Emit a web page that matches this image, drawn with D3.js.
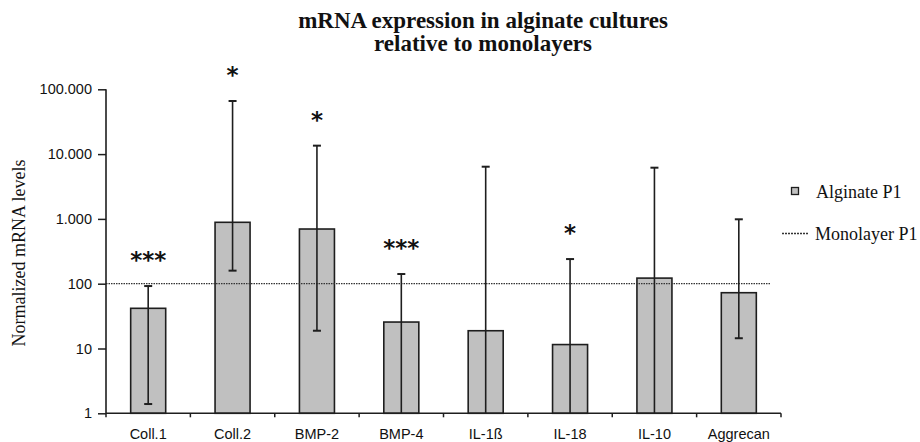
<!DOCTYPE html>
<html>
<head>
<meta charset="utf-8">
<script src="https://cdn.jsdelivr.net/npm/d3@7"></script>
<style>
    html, body { margin: 0; padding: 0; background: #fff; }
    svg { display: block; }
</style>
</head>
<body>
<svg id="chart" width="920" height="442"></svg>
<script>
/* ── Data ─────────────────────────────────────────── */
const genes     = ["Coll.1", "Coll.2", "BMP-2", "BMP-4", "IL-1ß", "IL-18", "IL-10", "Aggrecan"];
const means     = [41.7, 886, 698, 25.6, 18.8, 11.5, 122, 72.6];
const errUpper  = [92, 66000, 13500, 141, 6390, 240, 6170, 986];
const errLower  = [1.39, 159, 18.8, null, null, null, null, 14.4];   // null = runs below axis
const signif    = ["***", "*", "*", "***", "", "*", "", ""];
const yTicks    = [1, 10, 100, 1000, 10000, 100000];
const yTickText = ["1", "10", "100", "1.000", "10.000", "100.000"];
const monolayer = 100;

/* ── Scales ───────────────────────────────────────── */
const svg = d3.select("#chart");
const plot = { left: 106, right: 781, top: 89.3, bottom: 413.3 };

const x = d3.scaleBand()
    .domain(genes)
    .range([plot.left, plot.right])
    .paddingInner(0.585)
    .paddingOuter(0.2925);

const y = d3.scaleLog()
    .domain([1, 100000])
    .range([plot.bottom, plot.top]);

const dark = "#1e1e1e";

/* ── Title ────────────────────────────────────────── */
const title = svg.append("text")
    .attr("x", 483).attr("y", 28)
    .attr("text-anchor", "middle")
    .attr("font-family", "'Liberation Serif', 'Times New Roman', serif")
    .attr("font-weight", "bold")
    .attr("font-size", 23)
    .attr("fill", "#111");
title.append("tspan").attr("x", 483).text("mRNA expression in alginate cultures");
title.append("tspan").attr("x", 483).attr("dy", 23).text("relative to monolayers");

/* ── Y axis label ─────────────────────────────────── */
svg.append("text")
    .attr("transform", "translate(25,253) rotate(-90)")
    .attr("text-anchor", "middle")
    .attr("font-family", "'Liberation Serif', 'Times New Roman', serif")
    .attr("font-size", 18)
    .attr("fill", "#111")
    .text("Normalized mRNA levels");

/* ── Bars ─────────────────────────────────────────── */
const rows = genes.map((g, i) => ({
    gene: g, mean: means[i], hi: errUpper[i], lo: errLower[i], sig: signif[i]
}));

svg.append("g").selectAll("rect")
    .data(rows).join("rect")
    .attr("x", d => x(d.gene))
    .attr("y", d => y(d.mean))
    .attr("width", x.bandwidth())
    .attr("height", d => y(1) - y(d.mean))
    .attr("fill", "#c0c0c0")
    .attr("stroke", dark)
    .attr("stroke-width", 1.6);

/* ── Monolayer reference line ─────────────────────── */
svg.append("line")
    .attr("x1", plot.left).attr("x2", plot.right - 10)
    .attr("y1", y(monolayer)).attr("y2", y(monolayer))
    .attr("stroke", "#333")
    .attr("stroke-width", 1.3)
    .attr("stroke-dasharray", "1.5,1");

/* ── Error bars ───────────────────────────────────── */
const err = svg.append("g").selectAll("g")
    .data(rows).join("g")
    .attr("transform", d => `translate(${x(d.gene) + x.bandwidth() / 2},0)`);

err.append("line")
    .attr("y1", d => y(d.hi))
    .attr("y2", d => d.lo == null ? y(1) : y(d.lo))
    .attr("stroke", dark).attr("stroke-width", 1.6);

err.append("line")
    .attr("x1", -4).attr("x2", 4)
    .attr("y1", d => y(d.hi)).attr("y2", d => y(d.hi))
    .attr("stroke", dark).attr("stroke-width", 2);

err.filter(d => d.lo != null).append("line")
    .attr("x1", -4).attr("x2", 4)
    .attr("y1", d => y(d.lo)).attr("y2", d => y(d.lo))
    .attr("stroke", dark).attr("stroke-width", 2);

/* ── Significance stars ───────────────────────────── */
err.filter(d => d.sig).append("text")
    .attr("y", d => y(d.hi) - 30 + 12)
    .attr("text-anchor", "middle")
    .attr("font-family", "'DejaVu Sans', sans-serif")
    .attr("font-weight", "bold")
    .attr("font-size", 23)
    .attr("fill", "#111")
    .text(d => d.sig);

/* ── Axes ─────────────────────────────────────────── */
const yAxis = svg.append("g")
    .attr("transform", `translate(${plot.left},0)`)
    .call(d3.axisLeft(y)
        .tickValues(yTicks)
        .tickFormat((d, i) => yTickText[i])
        .tickSize(8)
        .tickPadding(6));
yAxis.select(".domain").attr("stroke", dark).attr("stroke-width", 1.6).attr("d", `M0,${plot.top}V${plot.bottom}`);
yAxis.selectAll(".tick line").attr("stroke", dark).attr("stroke-width", 1.5);
yAxis.selectAll(".tick text")
    .attr("font-family", "'Liberation Sans', Arial, sans-serif")
    .attr("font-size", 14.5)
    .attr("fill", "#111");

// x axis line and category boundary ticks
svg.append("line")
    .attr("x1", plot.left).attr("x2", plot.right)
    .attr("y1", plot.bottom).attr("y2", plot.bottom)
    .attr("stroke", dark).attr("stroke-width", 1.6);

const boundaries = d3.range(genes.length + 1).map(i => plot.left + i * x.step());
svg.append("g").selectAll("line")
    .data(boundaries).join("line")
    .attr("x1", d => d).attr("x2", d => d)
    .attr("y1", plot.bottom).attr("y2", plot.bottom + 4)
    .attr("stroke", dark).attr("stroke-width", 1.5);

svg.append("g").selectAll("text")
    .data(genes).join("text")
    .attr("x", d => x(d) + x.bandwidth() / 2)
    .attr("y", 439)
    .attr("text-anchor", "middle")
    .attr("font-family", "'Liberation Sans', Arial, sans-serif")
    .attr("font-size", 14.5)
    .attr("fill", "#111")
    .text(d => d);

/* ── Legend ───────────────────────────────────────── */
const legend = svg.append("g")
    .attr("font-family", "'Liberation Serif', 'Times New Roman', serif")
    .attr("font-size", 18)
    .attr("fill", "#111");

legend.append("rect")
    .attr("x", 791.5).attr("y", 187.5)
    .attr("width", 7).attr("height", 7)
    .attr("fill", "#c0c0c0").attr("stroke", dark).attr("stroke-width", 1.3);
legend.append("text").attr("x", 816).attr("y", 198).text("Alginate P1");

legend.append("line")
    .attr("x1", 782).attr("x2", 808)
    .attr("y1", 233.5).attr("y2", 233.5)
    .attr("stroke", "#333").attr("stroke-width", 1.5)
    .attr("stroke-dasharray", "2,1");
legend.append("text").attr("x", 815).attr("y", 240).text("Monolayer P1");
</script>
</body>
</html>
